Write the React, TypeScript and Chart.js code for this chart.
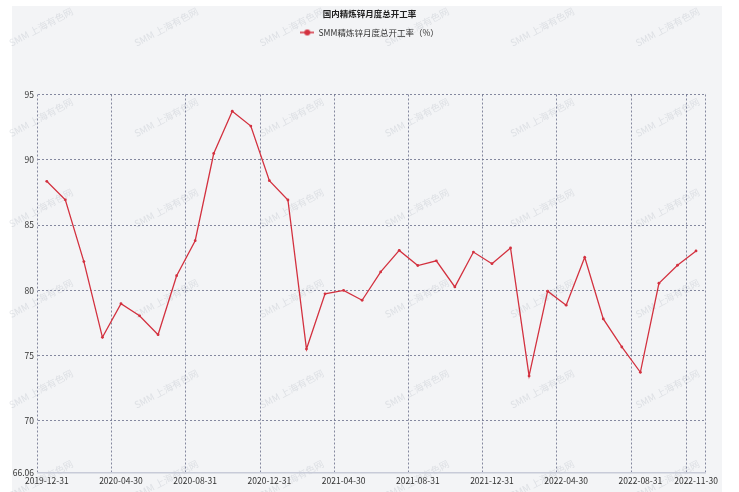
import React, { useEffect, useRef } from 'react';
import { Chart, registerables } from 'chart.js';

Chart.register(...registerables);

const TITLE = '国内精炼锌月度总开工率';
const SERIES_NAME = 'SMM精炼锌月度总开工率（%）';
const WATERMARK = 'SMM 上海有色网';

const months = [
  '2019-12-31', '2020-01-31', '2020-02-29', '2020-03-31', '2020-04-30', '2020-05-31',
  '2020-06-30', '2020-07-31', '2020-08-31', '2020-09-30', '2020-10-31', '2020-11-30',
  '2020-12-31', '2021-01-31', '2021-02-28', '2021-03-31', '2021-04-30', '2021-05-31',
  '2021-06-30', '2021-07-31', '2021-08-31', '2021-09-30', '2021-10-31', '2021-11-30',
  '2021-12-31', '2022-01-31', '2022-02-28', '2022-03-31', '2022-04-30', '2022-05-31',
  '2022-06-30', '2022-07-31', '2022-08-31', '2022-09-30', '2022-10-31', '2022-11-30',
];

const utilization = [
  88.35, 86.93, 82.2, 76.4, 78.97, 78.05,
  76.6, 81.12, 83.8, 90.48, 93.72, 92.58,
  88.4, 86.92, 75.5, 79.73, 80.0, 79.24,
  81.41, 83.06, 81.9, 82.26, 80.26, 82.93,
  82.04, 83.25, 73.44, 79.93, 78.86, 82.53,
  77.81, 75.66, 73.72, 80.54, 81.92, 83.02,
];

const xTickLabels = [
  '2019-12-31', '2020-04-30', '2020-08-31', '2020-12-31', '2021-04-30',
  '2021-08-31', '2021-12-31', '2022-04-30', '2022-08-31', '2022-11-30',
];

const yTicks = [66.06, 70, 75, 80, 85, 90, 95];
const Y_MIN = 66.06;
const Y_MAX = 95;

const RED = '#d3313f';
const GRID = 'rgba(100,105,135,0.78)';
const TEXT = '#333333';
const CJK = '"Noto Sans CJK SC", "Noto Sans", sans-serif';

const backgroundPlugin = {
  id: 'pageBackground',
  beforeDraw(chart: any) {
    const { ctx, width, height } = chart;
    ctx.save();
    ctx.fillStyle = '#ffffff';
    ctx.fillRect(0, 0, width, height);
    ctx.fillStyle = '#f3f4f6';
    ctx.fillRect(12, 6, 710, height - 6);
    ctx.font = '9.5px ' + CJK;
    ctx.fillStyle = 'rgba(160,165,178,0.26)';
    ctx.textAlign = 'center';
    ctx.textBaseline = 'middle';
    for (let r = 0; r < 6; r++) {
      for (let c = 0; c < 6; c++) {
        ctx.save();
        ctx.translate(41 + 125.3 * c, 27 + 90.5 * r);
        ctx.rotate(-28 * Math.PI / 180);
        ctx.fillText(WATERMARK, 0, 0);
        ctx.restore();
      }
    }
    ctx.restore();
  },
};

function makeMarker(): HTMLCanvasElement {
  const c = document.createElement('canvas');
  c.width = 14;
  c.height = 8;
  const g = c.getContext('2d')!;
  g.strokeStyle = RED;
  g.lineWidth = 1.5;
  g.beginPath();
  g.moveTo(0, 4);
  g.lineTo(14, 4);
  g.stroke();
  g.fillStyle = RED;
  g.beginPath();
  g.arc(7, 4, 3, 0, Math.PI * 2);
  g.fill();
  return c;
}

export default function App() {
  const canvasRef = useRef<HTMLCanvasElement | null>(null);

  useEffect(() => {
    if (!canvasRef.current) return;
    const marker = makeMarker();
    const chart = new Chart(canvasRef.current, {
      type: 'line',
      data: {
        labels: months,
        datasets: [
          {
            label: SERIES_NAME,
            data: utilization,
            borderColor: RED,
            backgroundColor: RED,
            borderWidth: 1.3,
            pointRadius: 1.4,
            pointBackgroundColor: RED,
            pointBorderWidth: 0,
            tension: 0,
          },
        ],
      },
      options: {
        animation: false,
        responsive: false,
        maintainAspectRatio: false,
        devicePixelRatio: 1,
        events: [],
        layout: { padding: { top: 0, left: 0, right: 0, bottom: 0 } },
        plugins: {
          tooltip: { enabled: false },
          title: {
            display: true,
            text: TITLE,
            color: '#222222',
            font: { size: 8.5, weight: 'bold', family: CJK },
            padding: { top: 9, bottom: 3 },
          },
          legend: {
            display: true,
            position: 'top',
            labels: {
              usePointStyle: true,
              pointStyle: marker,
              pointStyleWidth: 14,
              padding: 6,
              color: TEXT,
              font: { size: 8.5, family: CJK },
            },
          },
          subtitle: {
            display: true,
            text: '',
            weight: 500,
            font: { size: 10 },
            padding: { top: 35.8, bottom: 0 },
          },
        },
        scales: {
          x: {
            type: 'category',
            offset: true,
            grid: {
              offset: true,
              drawTicks: false,
              lineWidth: 1,
              color: (c: any) =>
                c.index === undefined || xTickLabels.includes(months[c.index]) ? GRID : 'rgba(0,0,0,0)',
            },
            border: { display: true, color: '#c8cbd8', width: 1.5, dash: [2, 2] },
            ticks: {
              autoSkip: false,
              maxRotation: 0,
              minRotation: 0,
              padding: 3.5,
              color: TEXT,
              font: { size: 8.5, family: CJK },
              callback: (_v: any, i: number) => (xTickLabels.includes(months[i]) ? months[i] : ''),
            },
            afterFit: (s: any) => {
              s.height = 19.7;
            },
          },
          y: {
            min: Y_MIN,
            max: Y_MAX,
            afterBuildTicks: (s: any) => {
              s.ticks = yTicks.map((v) => ({ value: v }));
            },
            afterFit: (s: any) => {
              s.width = 37.5;
            },
            grid: {
              drawTicks: false,
              lineWidth: 1,
              color: (c: any) => (c.tick && c.tick.value === Y_MIN ? 'rgba(0,0,0,0)' : GRID),
            },
            border: { display: false, dash: [2, 2] },
            ticks: {
              padding: 3.5,
              color: TEXT,
              font: { size: 8.5, family: CJK },
              callback: (v: any) => String(v),
            },
          },
          yRightSpace: {
            type: 'linear',
            position: 'right',
            display: true,
            grid: { display: false },
            border: { display: false },
            ticks: { display: false },
            afterFit: (s: any) => {
              s.width = 33.7;
            },
          },
        },
      },
      plugins: [backgroundPlugin],
    } as any);
    return () => chart.destroy();
  }, []);

  return (
    <div style={{ position: 'fixed', left: 0, top: 0, width: 739, height: 492 }}>
      <canvas ref={canvasRef} width={739} height={492} style={{ display: 'block' }} />
    </div>
  );
}
